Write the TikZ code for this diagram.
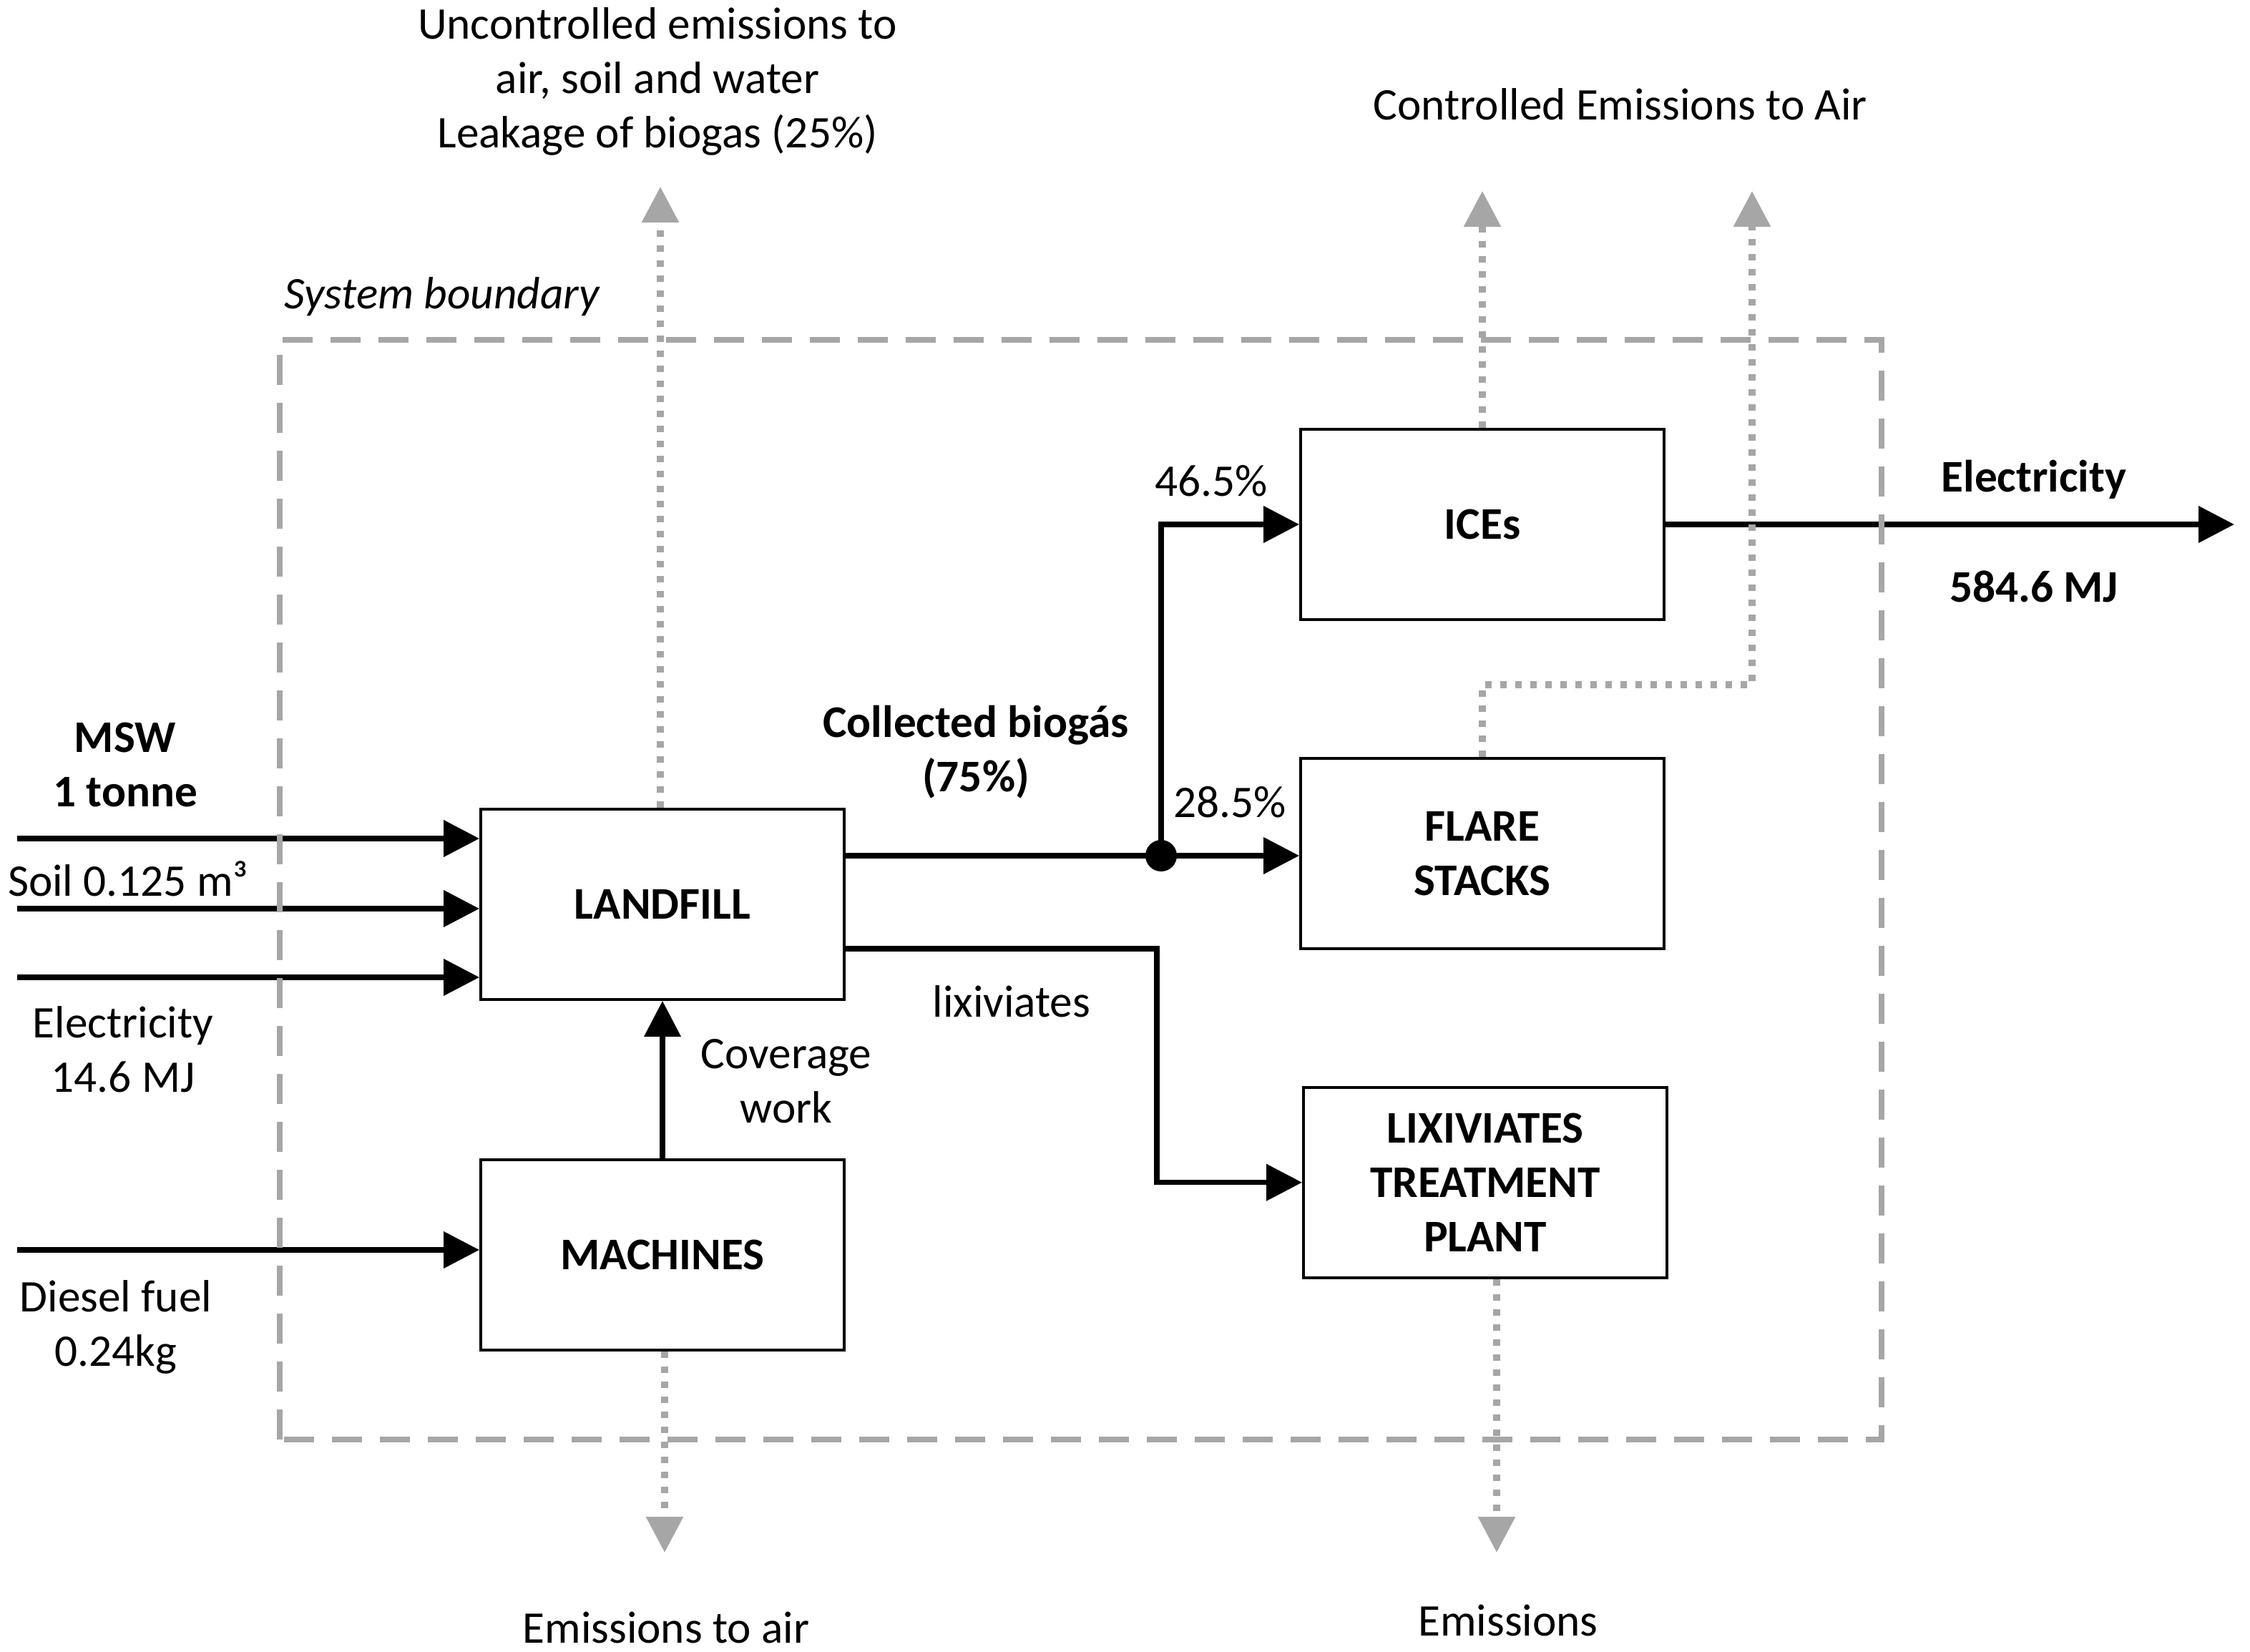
\documentclass[tikz,border=0pt]{standalone}
\usepackage{fontspec}
\setmainfont{Carlito}
\usetikzlibrary{arrows.meta,positioning,calc}
\definecolor{lgray}{HTML}{A6A6A6}
\newcommand{\dfont}{\fontsize{18}{21.6}\selectfont}
\tikzset{
  box/.style={draw, rectangle, line width=1.1pt, align=center, font=\dfont\bfseries, minimum width=50.8mm, minimum height=26.6mm, inner sep=3pt, fill=white},
  arr/.style={-{Triangle[length=5mm,width=5mm]}, line width=2.1pt},
  darr/.style={-{Triangle[length=5mm,width=5mm]}, draw=lgray, line width=2.6pt, dash pattern=on 0.9mm off 1.2mm},
  bnd/.style={draw=lgray, line width=2.5pt, dash pattern=on 4.2mm off 2.5mm},
  lbl/.style={font=\dfont, inner sep=0pt, align=center},
  blbl/.style={font=\dfont\bfseries, inner sep=0pt, align=center},
}
\begin{document}
\begin{tikzpicture}
\useasboundingbox (0,0) rectangle (31.45,23.08);
% process boxes
\node[box] (landfill) at (9.26,10.44) {LANDFILL};
\node[box, below=22mm of landfill] (machines) {MACHINES};
\node[box] (ices) at (20.72,15.75) {ICEs};
\node[box, below=19mm of ices] (flare) {FLARE\\STACKS};
\node[box, below=19mm of flare, xshift=0.4mm] (lix) {LIXIVIATES\\TREATMENT\\PLANT};
% inputs
\coordinate (mswin) at (0.24,11.36);
\coordinate (soilin) at (0.24,10.38);
\coordinate (elecin) at (0.24,9.42);
\coordinate (dieselin) at (0.24,5.61);
\draw[arr] (mswin) -- (mswin -| landfill.west);
\draw[arr] (soilin) -- (soilin -| landfill.west);
\draw[arr] (elecin) -- (elecin -| landfill.west);
\draw[arr] (dieselin) -- (dieselin -| machines.west);
\draw[arr] (machines.north) -- (machines.north |- landfill.south);
% biogas split
\coordinate (jn) at (16.23,11.12);
\draw[line width=2.1pt] (jn -| landfill.east) -- (jn);
\draw[arr] (jn) -- (jn -| flare.west);
\draw[arr] (jn) |- (ices.west);
\fill (jn) circle (2.2mm);
\coordinate (lixturn) at (16.17,9.82);
\draw[arr] (lixturn -| landfill.east) -- (lixturn) |- (lix.west);
\coordinate (elecout) at (31.23,15.75);
\draw[arr] (ices.east) -- (elecout);
% system boundary
\draw[bnd] (3.91,2.96) rectangle (26.30,18.33);
% emissions
\coordinate (leak) at (9.23,20.47);
\coordinate (iceair) at (20.72,20.41);
\coordinate (flarebend) at (24.49,13.51);
\coordinate (flareair) at (24.49,20.41);
\coordinate (machair) at (9.29,1.38);
\coordinate (lixem) at (20.92,1.38);
\draw[darr] (leak |- landfill.north) -- (leak);
\draw[darr] (ices.north) -- (iceair);
\draw[darr] (flare.north) |- (flarebend) -- (flareair);
\draw[darr] (machair |- machines.south) -- (machair);
\draw[darr] (lixem |- lix.south) -- (lixem);
% labels
\node[lbl] (uncontr) at (9.19,21.94) {Uncontrolled emissions to\\air, soil and water\\Leakage of biogas (25\%)};
\node[lbl] (contr) at (22.65,21.62) {Controlled Emissions to Air};
\node[lbl, font=\dfont\itshape] (sysb) at (6.18,18.93) {System boundary};
\node[blbl] (msw) at (1.75,12.39) {MSW\\1 tonne};
\node[lbl] (soil) at (1.79,10.80) {Soil 0.125 m³};
\node[lbl] (elec) at (1.72,8.41) {Electricity\\14.6 MJ};
\node[lbl] (diesel) at (1.62,4.53) {Diesel fuel\\0.24kg};
\node[lbl] (cov) at (10.99,7.97) {Coverage\\work};
\node[blbl] (biogas) at (13.64,12.57) {Collected biogás\\(75\%)};
\node[lbl] (p465) at (16.93,16.36) {46.5\%};
\node[lbl] (p285) at (17.19,11.87) {28.5\%};
\node[lbl] (lixlbl) at (14.14,9.08) {lixiviates};
\node[blbl] (elecoutlbl) at (28.43,16.38) {Electricity};
\node[blbl] (mj) at (28.43,14.88) {584.6 MJ};
\node[lbl] (emair) at (9.31,0.33) {Emissions to air};
\node[lbl] (em) at (21.08,0.43) {Emissions};
\end{tikzpicture}
\end{document}
